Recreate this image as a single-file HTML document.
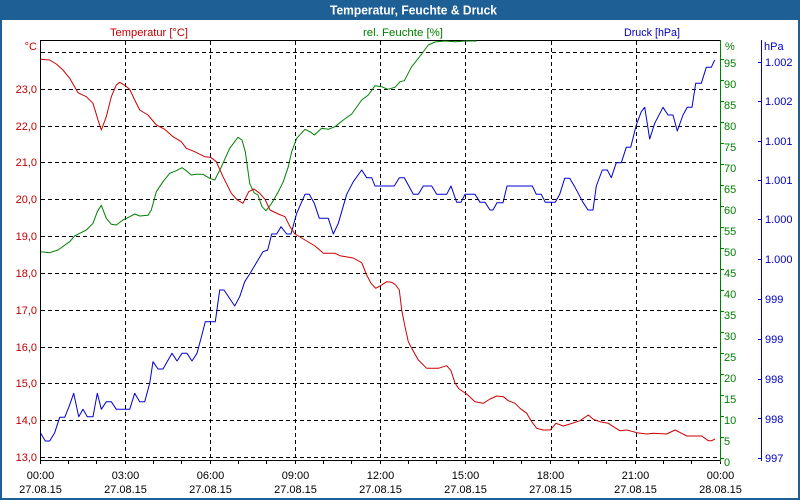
<!DOCTYPE html>
<html><head><meta charset="utf-8"><style>
html,body{margin:0;padding:0;background:#fff;}
svg{display:block;}
text{font-family:"Liberation Sans",Arial,sans-serif;font-size:11px;}
</style></head><body>
<svg width="800" height="500" viewBox="0 0 800 500" xmlns="http://www.w3.org/2000/svg">
<rect x="0" y="0" width="800" height="500" fill="#ffffff"/>
<!-- frame -->
<rect x="0" y="0" width="800" height="20" fill="#1e5f95"/>
<rect x="1" y="1" width="798" height="498" fill="none" stroke="#1e5f95" stroke-width="2"/>
<text x="330" y="14.5" fill="#ffffff" font-weight="bold" style="font-size:12.5px" textLength="167" lengthAdjust="spacingAndGlyphs">Temperatur, Feuchte &amp; Druck</text>

<!-- series titles -->
<text x="110" y="36" fill="#c00000" textLength="78" lengthAdjust="spacingAndGlyphs">Temperatur [°C]</text>
<text x="363" y="36" fill="#008000" textLength="80" lengthAdjust="spacingAndGlyphs">rel. Feuchte [%]</text>
<text x="624" y="36" fill="#0000c0" textLength="56" lengthAdjust="spacingAndGlyphs">Druck [hPa]</text>

<!-- grid -->
<g stroke="#000" stroke-width="1" stroke-dasharray="4,3" shape-rendering="crispEdges" fill="none">
<line x1="41" y1="52.5" x2="720" y2="52.5"/>
<line x1="41" y1="89.5" x2="720" y2="89.5"/>
<line x1="41" y1="126.5" x2="720" y2="126.5"/>
<line x1="41" y1="162.5" x2="720" y2="162.5"/>
<line x1="41" y1="199.5" x2="720" y2="199.5"/>
<line x1="41" y1="236.5" x2="720" y2="236.5"/>
<line x1="41" y1="273.5" x2="720" y2="273.5"/>
<line x1="41" y1="310.5" x2="720" y2="310.5"/>
<line x1="41" y1="347.5" x2="720" y2="347.5"/>
<line x1="41" y1="383.5" x2="720" y2="383.5"/>
<line x1="41" y1="420.5" x2="720" y2="420.5"/>
<line x1="41" y1="457.5" x2="720" y2="457.5"/>
<line x1="125.5" y1="41" x2="125.5" y2="460"/>
<line x1="210.5" y1="41" x2="210.5" y2="460"/>
<line x1="295.5" y1="41" x2="295.5" y2="460"/>
<line x1="380.5" y1="41" x2="380.5" y2="460"/>
<line x1="465.5" y1="41" x2="465.5" y2="460"/>
<line x1="551.5" y1="41" x2="551.5" y2="460"/>
<line x1="636.5" y1="41" x2="636.5" y2="460"/>
</g>

<!-- plot frame -->
<g stroke="#000" stroke-width="1" shape-rendering="crispEdges">
<line x1="40.5" y1="40" x2="40.5" y2="461"/>
<line x1="40" y1="40.5" x2="721" y2="40.5"/>
<line x1="40" y1="460.5" x2="721" y2="460.5"/>
</g>
<!-- hour ticks -->
<g stroke="#000" stroke-width="1" shape-rendering="crispEdges">
<line x1="40.5" y1="460" x2="40.5" y2="464"/>
<line x1="68.5" y1="460" x2="68.5" y2="464"/>
<line x1="96.5" y1="460" x2="96.5" y2="464"/>
<line x1="125.5" y1="460" x2="125.5" y2="464"/>
<line x1="153.5" y1="460" x2="153.5" y2="464"/>
<line x1="181.5" y1="460" x2="181.5" y2="464"/>
<line x1="210.5" y1="460" x2="210.5" y2="464"/>
<line x1="238.5" y1="460" x2="238.5" y2="464"/>
<line x1="266.5" y1="460" x2="266.5" y2="464"/>
<line x1="295.5" y1="460" x2="295.5" y2="464"/>
<line x1="323.5" y1="460" x2="323.5" y2="464"/>
<line x1="351.5" y1="460" x2="351.5" y2="464"/>
<line x1="380.5" y1="460" x2="380.5" y2="464"/>
<line x1="408.5" y1="460" x2="408.5" y2="464"/>
<line x1="436.5" y1="460" x2="436.5" y2="464"/>
<line x1="465.5" y1="460" x2="465.5" y2="464"/>
<line x1="493.5" y1="460" x2="493.5" y2="464"/>
<line x1="521.5" y1="460" x2="521.5" y2="464"/>
<line x1="550.5" y1="460" x2="550.5" y2="464"/>
<line x1="578.5" y1="460" x2="578.5" y2="464"/>
<line x1="606.5" y1="460" x2="606.5" y2="464"/>
<line x1="635.5" y1="460" x2="635.5" y2="464"/>
<line x1="663.5" y1="460" x2="663.5" y2="464"/>
<line x1="691.5" y1="460" x2="691.5" y2="464"/>
<line x1="720.5" y1="460" x2="720.5" y2="464"/>
</g>

<!-- left axis labels -->
<g fill="#c00000" text-anchor="end">
<text x="37" y="50">°C</text>
<text x="37" y="93">23,0</text>
<text x="37" y="130">22,0</text>
<text x="37" y="166">21,0</text>
<text x="37" y="203">20,0</text>
<text x="37" y="240">19,0</text>
<text x="37" y="277">18,0</text>
<text x="37" y="314">17,0</text>
<text x="37" y="351">16,0</text>
<text x="37" y="387">15,0</text>
<text x="37" y="424">14,0</text>
<text x="37" y="461">13,0</text>
</g>

<!-- bottom labels -->
<g fill="#000" text-anchor="middle">
<text x="40.5" y="479">00:00</text><text x="40.5" y="493">27.08.15</text>
<text x="125.5" y="479">03:00</text><text x="125.5" y="493">27.08.15</text>
<text x="210.5" y="479">06:00</text><text x="210.5" y="493">27.08.15</text>
<text x="295.5" y="479">09:00</text><text x="295.5" y="493">27.08.15</text>
<text x="380.5" y="479">12:00</text><text x="380.5" y="493">27.08.15</text>
<text x="465.5" y="479">15:00</text><text x="465.5" y="493">27.08.15</text>
<text x="550.5" y="479">18:00</text><text x="550.5" y="493">27.08.15</text>
<text x="635.5" y="479">21:00</text><text x="635.5" y="493">27.08.15</text>
<text x="720.5" y="479">00:00</text><text x="720.5" y="493">28.08.15</text>
</g>

<!-- green axis -->
<g stroke="#008000" stroke-width="1" shape-rendering="crispEdges">
<line x1="720.5" y1="40" x2="720.5" y2="462"/>
<line x1="720" y1="458.5" x2="724" y2="458.5"/>
<line x1="720" y1="437.5" x2="724" y2="437.5"/>
<line x1="720" y1="416.5" x2="724" y2="416.5"/>
<line x1="720" y1="395.5" x2="724" y2="395.5"/>
<line x1="720" y1="374.5" x2="724" y2="374.5"/>
<line x1="720" y1="353.5" x2="724" y2="353.5"/>
<line x1="720" y1="332.5" x2="724" y2="332.5"/>
<line x1="720" y1="311.5" x2="724" y2="311.5"/>
<line x1="720" y1="290.5" x2="724" y2="290.5"/>
<line x1="720" y1="269.5" x2="724" y2="269.5"/>
<line x1="720" y1="248.5" x2="724" y2="248.5"/>
<line x1="720" y1="227.5" x2="724" y2="227.5"/>
<line x1="720" y1="206.5" x2="724" y2="206.5"/>
<line x1="720" y1="185.5" x2="724" y2="185.5"/>
<line x1="720" y1="164.5" x2="724" y2="164.5"/>
<line x1="720" y1="143.5" x2="724" y2="143.5"/>
<line x1="720" y1="122.5" x2="724" y2="122.5"/>
<line x1="720" y1="101.5" x2="724" y2="101.5"/>
<line x1="720" y1="80.5" x2="724" y2="80.5"/>
<line x1="720" y1="59.5" x2="724" y2="59.5"/>
</g>
<g fill="#008000">
<text x="725" y="50">%</text>
<text x="724" y="466">0</text>
<text x="724" y="445">5</text>
<text x="724" y="424">10</text>
<text x="724" y="403">15</text>
<text x="724" y="382">20</text>
<text x="724" y="361">25</text>
<text x="724" y="340">30</text>
<text x="724" y="319">35</text>
<text x="724" y="298">40</text>
<text x="724" y="277">45</text>
<text x="724" y="256">50</text>
<text x="724" y="235">55</text>
<text x="724" y="214">60</text>
<text x="724" y="193">65</text>
<text x="724" y="172">70</text>
<text x="724" y="151">75</text>
<text x="724" y="130">80</text>
<text x="724" y="109">85</text>
<text x="724" y="88">90</text>
<text x="724" y="67">95</text>
</g>

<!-- blue axis -->
<g stroke="#0000c8" stroke-width="1" shape-rendering="crispEdges">
<line x1="761.5" y1="40" x2="761.5" y2="461"/>
<line x1="758" y1="458.5" x2="762" y2="458.5"/>
<line x1="758" y1="418.5" x2="762" y2="418.5"/>
<line x1="758" y1="379.5" x2="762" y2="379.5"/>
<line x1="758" y1="339.5" x2="762" y2="339.5"/>
<line x1="758" y1="299.5" x2="762" y2="299.5"/>
<line x1="758" y1="259.5" x2="762" y2="259.5"/>
<line x1="758" y1="219.5" x2="762" y2="219.5"/>
<line x1="758" y1="180.5" x2="762" y2="180.5"/>
<line x1="758" y1="141.5" x2="762" y2="141.5"/>
<line x1="758" y1="101.5" x2="762" y2="101.5"/>
<line x1="758" y1="62.5" x2="762" y2="62.5"/>
</g>
<g fill="#0000c8">
<text x="764" y="50">hPa</text>
<text x="765" y="462">997</text>
<text x="765" y="423">998</text>
<text x="765" y="383">998</text>
<text x="765" y="343">999</text>
<text x="765" y="303">999</text>
<text x="765" y="263">1.000</text>
<text x="765" y="223">1.000</text>
<text x="765" y="184">1.001</text>
<text x="765" y="145">1.001</text>
<text x="765" y="105">1.002</text>
<text x="765" y="66">1.002</text>
</g>

<!-- series -->
<g fill="none" stroke-width="1" stroke-linejoin="round">
<polyline stroke="#0000d0" points="40.7,433.3 45.3,441 49.7,441 54.7,432.7 59.7,417.3 64.7,417.3 69,406.7 73.7,393.3 78.7,416.7 83,409.3 87.3,416.7 93,416.7 97.3,393.3 101.3,409.3 106.3,401.7 111.3,401.7 116.3,409.3 129.7,409.3 134.7,393.3 139.7,401.7 144.7,401.7 149.7,383.3 153,361.7 158,369 163,369 172,353.3 177,361 182,353.3 187,353.3 192,361 197,353.3 201.3,337.3 205.3,321.7 215.3,321.7 219.7,290 224,290 234.7,306 239.7,296.7 244.7,281.7 249.7,274 258,260 263,251.7 267.7,250 271.7,234 276.7,234 281,226.7 286.7,234 291,234 296.7,213.3 305,194.3 309.3,194.3 314.3,203.3 319.3,218.3 328.3,218.3 333.3,234 338.3,223.3 346.7,194.3 353.3,181.7 361.7,170 366.7,177.7 371.7,177.7 375,186 394.3,186 399.3,177.7 404.3,177.7 413.3,194.3 418.3,194.3 423.3,186 431.7,186 436.7,194.3 446.7,194.3 451,186 456.7,202.3 461,202.3 465,194.3 475,194.3 480,202.3 485,202.3 490,210 493,210 497,202.7 503,202.7 507,186 532.3,186 536.3,194.3 541.3,194.3 545.3,202.3 555.3,202.3 559.7,194.3 564.7,178.3 569.7,178.3 574.7,186.7 583,202.3 588,210 593,210 596.3,186 602.3,170 607.3,170 611.3,177.7 616.3,162.7 621.3,162.7 626.3,147.3 630.7,147.3 636.3,125 641.3,111.7 644.7,107.3 649.7,139 654.7,123.3 663,107.3 668,115 673,115 677.3,131 683,115 687.3,107.3 692,107.3 695.7,83.3 701.3,83.3 706.3,67.3 711.3,67.3 714.7,60"/>
<polyline stroke="#008000" points="40.7,251.7 49.7,252.7 58,250 69.7,241.7 74.7,236 79.7,233.3 86.3,230 93,223.3 97.3,211.7 101.3,205.3 106.3,218.3 111.3,224.3 116.3,225 123,220 129.7,216.7 134.7,214 139.7,216 148,215.3 151.3,210 156.3,191.7 163,181.7 169.7,173.3 176.3,170.7 182,167.7 186.3,170.7 191.3,175 196.3,174.3 203,174.3 209.7,178.3 214.7,180 220.7,168.3 229.7,148.3 238,137.3 242,140 245.3,151.7 249.7,183.3 254,192.7 258,195 262,206.7 266,210.7 271.7,203.3 278.3,191.7 283.3,181.7 288.3,166.7 291.7,151.7 296.7,138.3 305,129.3 310,131.7 314.3,135 321.7,128.3 328.3,129.3 335,126.7 343.3,120 351.7,114 361.7,100 368.3,95 375,85.7 381.7,86.7 387.7,89.3 395,87.3 400,81.7 404.3,80.7 411.7,66.7 421.7,54 428.3,45 435,42 445,41 455,41.7 465,41 476.7,41"/>
<polyline stroke="#cc0000" points="40.7,59.3 49.7,60 56.3,64 63,70 69.7,78.3 78,92.7 86.3,96.7 93,103.3 98,120 101.3,130 106.3,116.7 111.3,96.7 116.3,85 119.7,82.3 125.3,85.7 129.7,89.3 134.7,100 139.7,110 148,115 156.3,125 164.7,129.3 173,136.7 181.3,141.7 186.3,148.3 194.7,151.7 204.7,156.7 210.7,157.3 216.3,161.7 223,176.7 231.3,193.3 237.3,200 243,203.3 248.7,191.7 254,189 259.7,193.3 265,199.3 270,210 278.3,214 285,216.7 290,226.7 295,234 305,240 315,246 321.7,251.7 323.3,253.3 335,253.3 340,255.7 353.3,258 361.7,262.7 366.7,275 371,283.3 375.7,288.3 380,286 386.7,281.7 391.7,282.3 395.7,285 399.3,290 401.7,310 405,326.7 408.3,341.7 411.7,348.3 418.3,360 426.7,368.3 438.3,368.3 446.7,365.7 451,370.7 455,383 459,389 466.7,394 475,401.7 483.3,403.3 490,399 496.7,396 503.3,396.7 508.3,400.7 515,403.3 520,408.3 526.7,413.3 531.7,421.7 536.7,428.3 543.3,430 550,430 551.7,428.3 556,423.3 563.3,426 570,424 580,420.7 588.3,415 593.3,419.3 600,421.7 608.3,423.3 613.3,426.7 620,430.7 626.7,430 633.3,431.7 636.7,432.7 646.7,434 653.3,433.3 666.7,434 675,430 681.7,433.3 686.7,436 701.7,436 708.3,440.7 711.7,440.7 715,439"/>
</g>
</svg>
</body></html>
